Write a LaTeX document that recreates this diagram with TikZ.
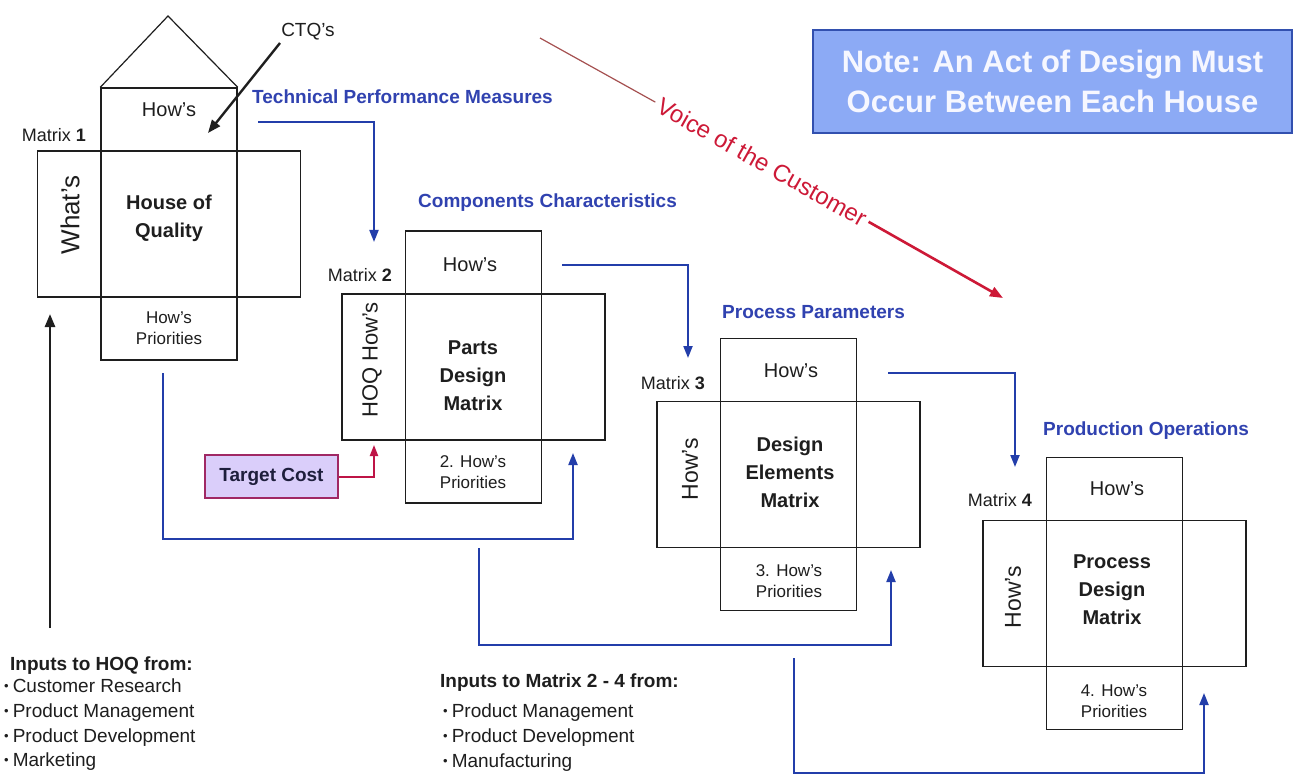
\documentclass[tikz,border=0pt]{standalone}
\usepackage{fontspec}
\setmainfont{Liberation Sans}
\usetikzlibrary{arrows.meta,calc}

\definecolor{ink}{RGB}{30,30,30}
\definecolor{linkblue}{RGB}{35,62,170}
\definecolor{labelblue}{RGB}{48,66,176}
\definecolor{vocred}{RGB}{205,25,55}
\definecolor{vocthin}{RGB}{165,80,80}
\definecolor{notefill}{RGB}{140,170,245}
\definecolor{noteedge}{RGB}{50,80,175}
\definecolor{notetext}{RGB}{246,247,255}
\definecolor{costfill}{RGB}{218,206,250}
\definecolor{costedge}{RGB}{160,40,100}
\definecolor{costlink}{RGB}{190,20,70}

\newcommand\fsz[2]{\fontsize{#1}{#2}\selectfont}
\newcommand\itemdot{\raisebox{1.5pt}{\fsz{13}{13}\textbullet}\hspace{4pt}}

\begin{document}
\begin{tikzpicture}[x=1pt,y=-1pt,
  tallbox/.style={draw=ink, line width=1.4pt, minimum width=136pt, minimum height=272pt, inner sep=0pt},
  widebox/.style={draw=ink, line width=1.4pt, minimum width=263pt, minimum height=146pt, inner sep=0pt},
  celltext/.style={font=\fsz{20}{24}, text=ink, inner sep=0pt},
  coretext/.style={font=\bfseries\fsz{20}{28}, text=ink, align=center, inner sep=0pt},
  priotext/.style={font=\fsz{17}{21.5}, text=ink, align=center, inner sep=0pt},
  sidetext/.style={rotate=90, font=\fsz{23}{23}, text=ink, inner sep=0pt},
  mlabel/.style={font=\fsz{18}{18}, text=ink, anchor=east, inner sep=0pt},
  steplabel/.style={font=\bfseries\fsz{19}{19}, text=labelblue, anchor=west, inner sep=0pt},
  bluelink/.style={draw=linkblue, line width=2pt, -{Triangle[length=12pt,width=9pt]}},
  blackarrow/.style={draw=ink, line width=2.6pt, -{Triangle[length=13pt,width=10pt]}},
  listhead/.style={font=\bfseries\fsz{19}{19}, text=ink, anchor=base west, inner sep=0pt},
  listitem/.style={font=\fsz{19}{19}, text=ink, anchor=base west, inner sep=0pt},
]
\useasboundingbox (0,0) rectangle (1304,778);
\fill[white] (0,0) rectangle (1304,778);

% ---------- Matrix 1: House of Quality ----------
\node[tallbox] (m1t) at (169,224) {};
\node[widebox] (m1w) at (169,224) {};
\coordinate (m1apex) at (168,16);
\draw[ink, line width=1.2pt] (m1t.north west) -- (m1apex) -- (m1t.north east);
\node[celltext] (m1how) at (169,110) {How's};
\node[sidetext, font=\fsz{26}{26}] (m1what) at (70,215) {What's};
\node[coretext] (m1core) at (169,218) {House of\\Quality};
\node[priotext] (m1prio) at (169,328) {How's\\Priorities};
\node[mlabel] (m1lab) at (86,135) {Matrix \textbf{1}};

% ---------- Matrix 2 ----------
\node[tallbox] (m2t) at (473.5,367) {};
\node[widebox] (m2w) at (473.5,367) {};
\node[celltext] (m2how) at (470,265) {How's};
\node[sidetext, font=\fsz{22}{22}] (m2side) at (372,360) {HOQ How's};
\node[coretext] (m2core) at (473,376) {Parts\\Design\\Matrix};
\node[priotext] (m2prio) at (473,472) {2. How's\\Priorities};
\node[mlabel] (m2lab) at (392,275) {Matrix \textbf{2}};

% ---------- Matrix 3 ----------
\node[tallbox] (m3t) at (788.5,474.5) {};
\node[widebox] (m3w) at (788.5,474.5) {};
\node[celltext] (m3how) at (791,371) {How's};
\node[sidetext] (m3side) at (690,469) {How's};
\node[coretext] (m3core) at (790,472) {Design\\Elements\\Matrix};
\node[priotext] (m3prio) at (789,581) {3. How's\\Priorities};
\node[mlabel] (m3lab) at (705,383) {Matrix \textbf{3}};

% ---------- Matrix 4 ----------
\node[tallbox] (m4t) at (1114.5,593.5) {};
\node[widebox] (m4w) at (1114.5,593.5) {};
\node[celltext] (m4how) at (1117,489) {How's};
\node[sidetext] (m4side) at (1013,597) {How's};
\node[coretext] (m4core) at (1112,590) {Process\\Design\\Matrix};
\node[priotext] (m4prio) at (1114,701) {4. How's\\Priorities};
\node[mlabel] (m4lab) at (1032,500) {Matrix \textbf{4}};

% ---------- flow labels ----------
\node[steplabel] (tpm) at (252,97) {Technical Performance Measures};
\node[steplabel] (cc) at (418,203) {Components Characteristics};
\node[steplabel] (pp) at (722,312) {Process Parameters};
\node[steplabel] (po) at (1043,431) {Production Operations};

% ---------- forward links between houses ----------
\coordinate (a1s) at (258,122);  \coordinate (a1e) at (374,242);
\coordinate (a2s) at (562,265);  \coordinate (a2e) at (688,358);
\coordinate (a3s) at (888,373);  \coordinate (a3e) at (1015,467);
\draw[bluelink] (a1s) -| (a1e);
\draw[bluelink] (a2s) -| (a2e);
\draw[bluelink] (a3s) -| (a3e);

% ---------- priority feedback links ----------
\coordinate (f1s) at (163,373);  \coordinate (f1c) at (573,539);  \coordinate (f1e) at (573,453);
\coordinate (f2s) at (479,548);  \coordinate (f2c) at (891,645);  \coordinate (f2e) at (891,570);
\coordinate (f3s) at (794,658);  \coordinate (f3c) at (1204,773); \coordinate (f3e) at (1204,693);
\draw[bluelink] (f1s) |- (f1c) -- (f1e);
\draw[bluelink] (f2s) |- (f2c) -- (f2e);
\draw[bluelink] (f3s) |- (f3c) -- (f3e);

% ---------- CTQ's ----------
\node[font=\fsz{19}{19}, text=ink, inner sep=0pt] (ctq) at (308,32) {CTQ's};
\coordinate (ctqs) at (280,43);  \coordinate (ctqe) at (208,133);
\draw[blackarrow, line width=2.4pt] (ctqs) -- (ctqe);

% ---------- Target cost ----------
\node[draw=costedge, fill=costfill, line width=1.5pt, minimum width=133pt, minimum height=43pt,
      inner sep=0pt, font=\bfseries\fsz{19}{19}, text={rgb,255:red,30;green,30;blue,60}] (cost) at (271.5,476.5) {Target Cost};
\coordinate (coste) at (374,445);
\draw[draw=costlink, line width=2pt, -{Triangle[length=11pt,width=8pt]}] (cost.east) -| (coste);

% ---------- note box ----------
\node[draw=noteedge, fill=notefill, line width=2pt, minimum width=479pt, minimum height=103pt,
      inner sep=0pt, align=center, font=\bfseries\fsz{31}{40}, text=notetext] (note) at (1052.5,81.5)
      {Note: An Act of Design Must\\Occur Between Each House};

% ---------- voice of the customer ----------
\coordinate (vocs) at (540,38);
\coordinate (voce) at (1003,298);
\node[rotate=-29.3, font=\fsz{24}{24}, text=vocred, inner sep=4pt] (voc) at (762,162) {Voice of the Customer};
\draw[vocthin, line width=1.2pt] (vocs) -- (voc.west);
\draw[vocred, line width=2.6pt, -{Triangle[length=13pt,width=10pt]}] (voc.east) -- (voce);

% ---------- inputs to the house of quality ----------
\node[listhead] (in1h) at (10,670) {Inputs to HOQ from:};
\node[listitem] (in1a) at (4,692) {\itemdot Customer Research};
\node[listitem] (in1b) at (4,717) {\itemdot Product Management};
\node[listitem] (in1c) at (4,742) {\itemdot Product Development};
\node[listitem] (in1d) at (4,766) {\itemdot Marketing};
\coordinate (hoqin) at (50,628);
\coordinate (hoqtip) at (50,314);
\draw[blackarrow] (hoqin) -- (hoqtip);

% ---------- inputs to matrices 2 to 4 ----------
\node[listhead] (in2h) at (440,687) {Inputs to Matrix 2 - 4 from:};
\node[listitem] (in2a) at (443,717) {\itemdot Product Management};
\node[listitem] (in2b) at (443,742) {\itemdot Product Development};
\node[listitem] (in2c) at (443,767) {\itemdot Manufacturing};
\end{tikzpicture}
\end{document}
